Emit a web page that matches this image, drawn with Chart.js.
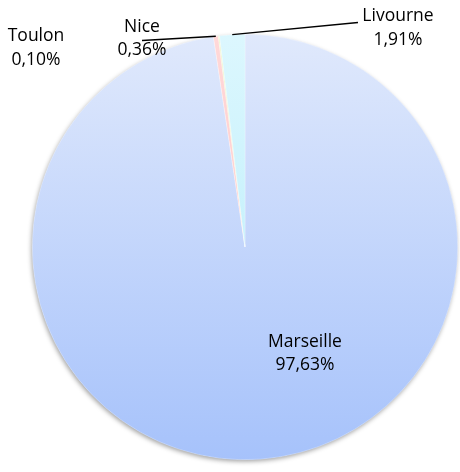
<!DOCTYPE html>
<html lang="fr">
<head>
    <meta charset="UTF-8">
    <title>Ports</title>
    <script src="https://cdn.jsdelivr.net/npm/chart.js@4"></script>
    <style>
        body {
            margin: 0;
            background: #fff;
        }
        #chart {
            display: block;
        }
    </style>
</head>
<body>
    <canvas id="chart" width="460" height="472"></canvas>
    <script>
        // data (clockwise from top)
        const ports = ['Marseille', 'Nice', 'Toulon', 'Livourne'];
        const parts = [97.63, 0.36, 0.10, 1.91];
        const partLabels = ['97,63%', '0,36%', '0,10%', '1,91%'];

        // gradient top -> bottom for each slice
        const colTop = ['#e0e9fc', '#ffd8d8', '#eef6d0', '#dcf7fe'];
        const colBottom = ['#a6c2fb', '#ffc4c4', '#d8ecb0', '#b2ecfa'];

        // label placement: [x, baseline1, baseline2, lineEndX, lineEndY]
        const labelPos = [
            [305, 347, 370, null, null],
            [142, 32, 55, 142, 40.5],
            [36, 41, 65, null, null],
            [398, 21, 45, 358, 22.5]
        ];

        function sliceFill(context) {
            const i = context.dataIndex;
            const area = context.chart.chartArea;
            if (!area) return colTop[i];
            const g = context.chart.ctx.createLinearGradient(0, area.top, 0, area.bottom);
            g.addColorStop(0, colTop[i]);
            g.addColorStop(1, colBottom[i]);
            return g;
        }

        // soft shadow under the whole pie
        const shadowPlugin = {
            id: 'shadow',
            beforeDatasetsDraw(chart) {
                const arc = chart.getDatasetMeta(0).data[0];
                if (!arc) return;
                const ctx = chart.ctx;
                ctx.save();
                ctx.shadowColor = 'rgba(0,0,0,0.4)';
                ctx.shadowBlur = 5;
                ctx.shadowOffsetX = -1;
                ctx.shadowOffsetY = 2;
                ctx.fillStyle = '#fff';
                ctx.beginPath();
                ctx.arc(arc.x, arc.y, arc.outerRadius - 0.5, 0, Math.PI * 2);
                ctx.fill();
                ctx.restore();
            }
        };

        const labelPlugin = {
            id: 'labels',
            afterDraw(chart) {
                const ctx = chart.ctx;
                const arcs = chart.getDatasetMeta(0).data;
                ctx.save();
                ctx.font = '17.5px "Open Sans", sans-serif';
                ctx.fillStyle = '#000';
                ctx.textAlign = 'center';
                ctx.textBaseline = 'alphabetic';
                arcs.forEach(function(arc, i) {
                    const p = labelPos[i];
                    if (p[3] !== null) {
                        const mid = (arc.startAngle + arc.endAngle) / 2;
                        const sx = arc.x + arc.outerRadius * Math.cos(mid);
                        const sy = arc.y + arc.outerRadius * Math.sin(mid);
                        ctx.strokeStyle = '#000';
                        ctx.lineWidth = 1.3;
                        ctx.beginPath();
                        ctx.moveTo(sx, sy);
                        ctx.lineTo(p[3], p[4]);
                        ctx.stroke();
                    }
                    ctx.fillText(ports[i], p[0], p[1]);
                    ctx.fillText(partLabels[i], p[0], p[2]);
                });
                ctx.restore();
            }
        };

        new Chart(document.getElementById('chart'), {
            type: 'pie',
            data: {
                labels: ports,
                datasets: [{
                    data: parts,
                    backgroundColor: sliceFill,
                    borderColor: 'rgba(255,255,255,0.5)',
                    borderWidth: 0.5
                }]
            },
            options: {
                responsive: false,
                animation: false,
                layout: {
                    padding: { left: 32, right: 2, top: 34, bottom: 12 }
                },
                plugins: {
                    legend: { display: false },
                    tooltip: { enabled: false }
                }
            },
            plugins: [shadowPlugin, labelPlugin]
        });
    </script>
</body>
</html>
